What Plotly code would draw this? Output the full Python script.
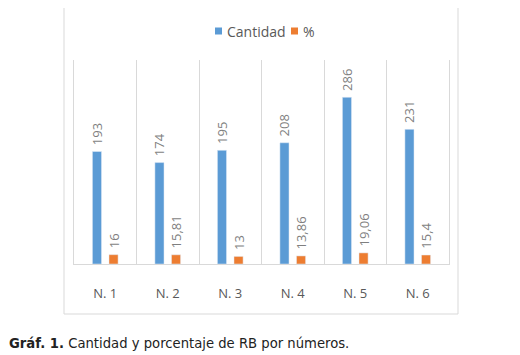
import plotly.graph_objects as go

categories = ["N. 1", "N. 2", "N. 3", "N. 4", "N. 5", "N. 6"]
cantidad = [193, 174, 195, 208, 286, 231]
porcentaje = [16, 15.81, 13, 13.86, 19.06, 15.4]
porcentaje_labels = ["16", "15,81", "13", "13,86", "19,06", "15,4"]
series_names = ["Cantidad", "%"]
series_colors = ["#5B9BD5", "#ED7D31"]

W, H = 520, 355
OFF = 8  # page body margin
L, R, T, B = 74 - OFF, 449 - OFF, 60 - OFF, 264 - OFF
pw, ph = R - L, B - T

def px(x):
    return (x - OFF - L) / pw

def py(y):
    return (B - (y - OFF)) / ph

label_font = dict(family="Open Sans", size=13, color="#7f7f7f")
NB = "\u00a0"

fig = go.Figure()
fig.add_trace(go.Bar(
    x=categories, y=cantidad, name=series_names[0],
    marker=dict(color=series_colors[0]),
    text=[NB + str(v) for v in cantidad], textposition="outside",
    textangle=-90, textfont=label_font, constraintext="none",
    cliponaxis=False,
))
fig.add_trace(go.Bar(
    x=categories, y=porcentaje, name=series_names[1],
    marker=dict(color=series_colors[1]),
    text=[NB + s for s in porcentaje_labels], textposition="outside",
    textangle=-90, textfont=label_font, constraintext="none",
    cliponaxis=False,
))

shapes = [dict(type="rect", xref="paper", yref="paper",
               x0=px(64), x1=px(458), y0=py(314), y1=py(7),
               line=dict(color="#d9d9d9", width=1), fillcolor="rgba(0,0,0,0)", layer="below")]
annotations = [dict(
    xref="paper", yref="paper", x=px(7), y=py(343), xanchor="left", yanchor="middle",
    text="<b>Gráf. 1.</b> Cantidad y porcentaje de RB por números.",
    showarrow=False, font=dict(family="DejaVu Sans", size=13.2, color="#222222"),
)]

# manual legend (squares + text)
legend_sq_x = [215, 291]
for name, color, sx in zip(series_names, series_colors, legend_sq_x):
    shapes.append(dict(type="rect", xref="paper", yref="paper",
                       x0=px(sx), x1=px(sx + 7), y0=py(34.5), y1=py(27.5),
                       line=dict(width=0), fillcolor=color))
    annotations.append(dict(xref="paper", yref="paper", x=px(sx + 10), y=py(31),
                            xanchor="left", yanchor="middle", text=name, showarrow=False,
                            font=dict(family="Open Sans", size=14, color="#595959")))

fig.update_layout(
    width=W, height=H,
    margin=dict(l=L, r=W - R, t=T, b=H - B, pad=0),
    paper_bgcolor="white", plot_bgcolor="white",
    barmode="group", bargap=0.47, bargroupgap=0.45,
    showlegend=False,
    font=dict(family="Open Sans", color="#595959"),
    xaxis=dict(
        type="category", tickson="boundaries", showgrid=True, gridcolor="#d9d9d9",
        gridwidth=1, showline=True, linecolor="#d9d9d9", linewidth=1,
        ticks="", tickfont=dict(family="Open Sans", size=13, color="#595959"),
        ticklabelstandoff=17, range=[-0.5, 5.5], fixedrange=True,
    ),
    yaxis=dict(range=[0, 350], showgrid=False, showticklabels=False, zeroline=False,
               showline=True, mirror=True, linecolor="#d9d9d9", linewidth=1,
               ticks="", fixedrange=True),
    shapes=shapes,
    annotations=annotations,
)

fig.write_html("out.html")
